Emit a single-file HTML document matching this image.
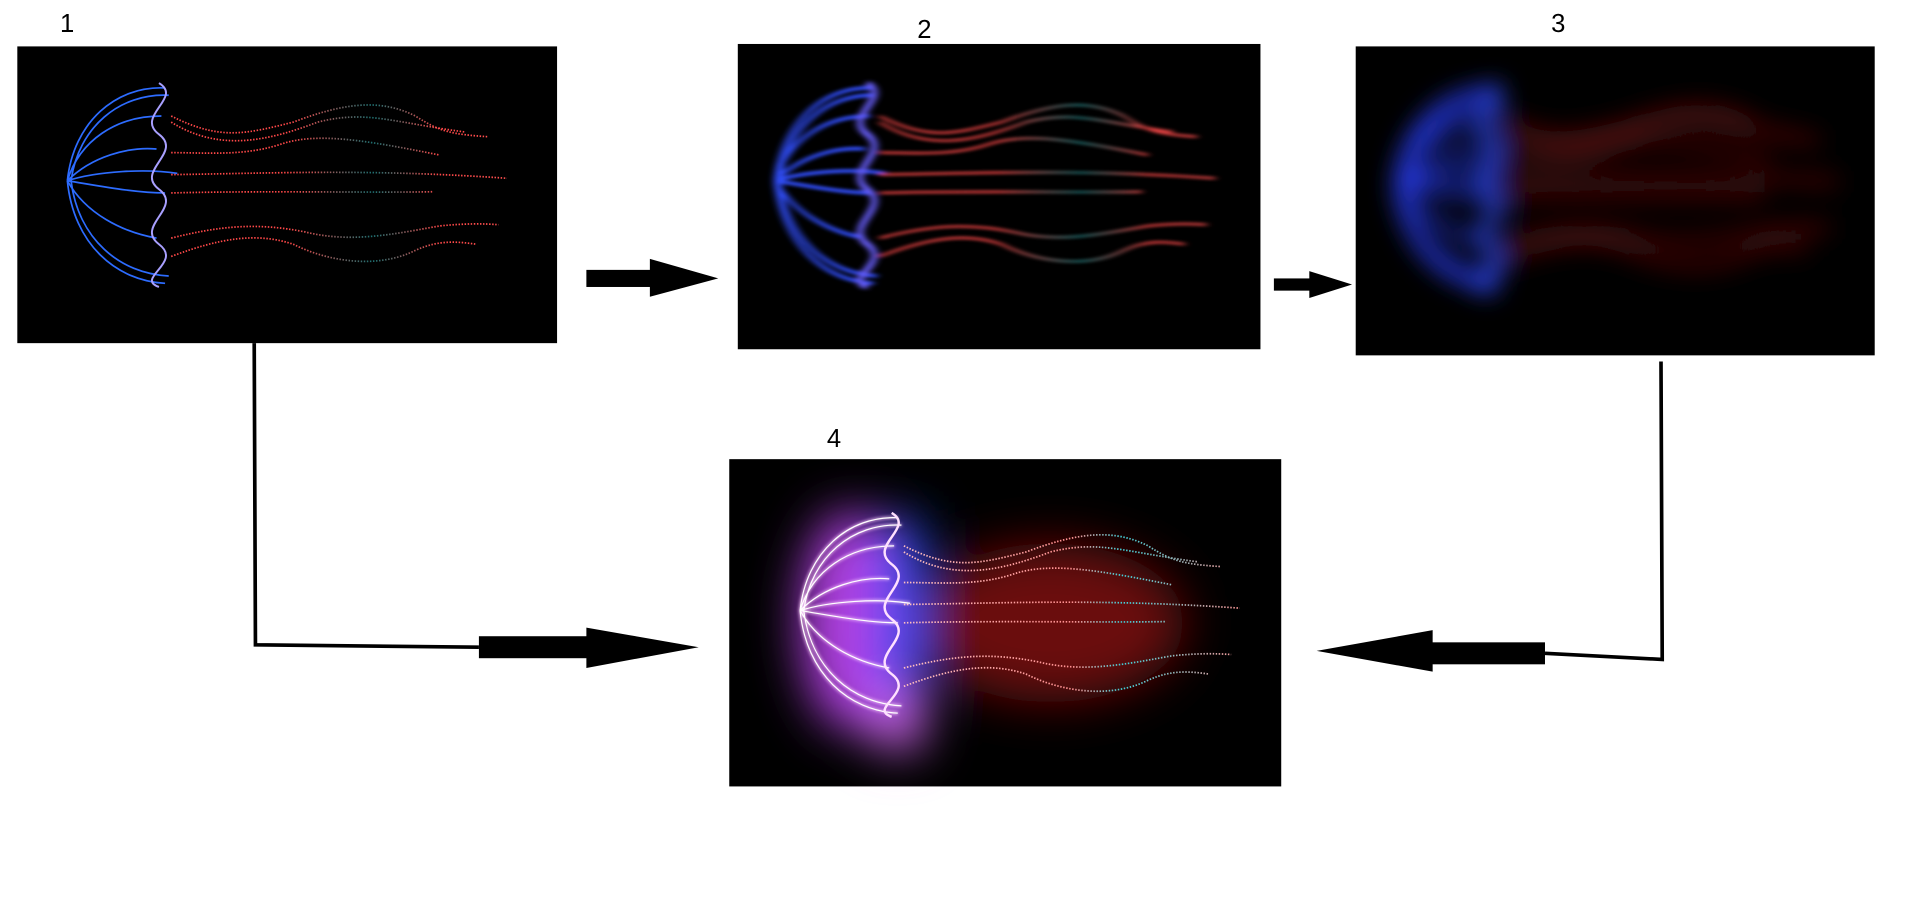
<!DOCTYPE html>
<html><head><meta charset="utf-8"><style>
html,body{margin:0;padding:0;background:#fff;width:1914px;height:900px;overflow:hidden}
svg{display:block}
text{font-family:"Liberation Sans",sans-serif}
</style></head><body>
<svg width="1914" height="900" viewBox="0 0 1567 737" xmlns="http://www.w3.org/2000/svg">
<defs>
  <linearGradient id="tg" gradientUnits="userSpaceOnUse" x1="140" y1="0" x2="415" y2="0">
    <stop offset="0" stop-color="#ff4848"/><stop offset="0.35" stop-color="#ff4848"/>
    <stop offset="0.6" stop-color="#1c6f70"/><stop offset="0.8" stop-color="#ff4848"/><stop offset="1" stop-color="#ff5050"/>
  </linearGradient>
  <linearGradient id="tg4" gradientUnits="userSpaceOnUse" x1="140" y1="0" x2="415" y2="0">
    <stop offset="0" stop-color="#ffc0c0"/><stop offset="0.5" stop-color="#ff9090"/>
    <stop offset="0.65" stop-color="#40d0d8"/><stop offset="1" stop-color="#ff9a9a"/>
  </linearGradient>
  <filter id="b2" x="-20%" y="-20%" width="140%" height="140%"><feGaussianBlur stdDeviation="3 1.2"/></filter>
  <filter id="b3" filterUnits="userSpaceOnUse" x="1000" y="0" width="560" height="320"><feGaussianBlur stdDeviation="10"/></filter>
  <filter id="b4" x="-50%" y="-50%" width="200%" height="200%"><feGaussianBlur stdDeviation="20"/></filter>
  <filter id="g4" x="-20%" y="-20%" width="140%" height="140%"><feGaussianBlur stdDeviation="1.2"/></filter>
  <g id="bell">
    <path d="M55,148 C60,100 95,70 135,72"/>
    <path d="M55,148 C65,115 95,95 132,95"/>
    <path d="M55,148 C75,128 105,120 128,122"/>
    <path d="M55,148 C80,140 120,138 145,142"/>
    <path d="M55,148 C80,152 110,158 135,158"/>
    <path d="M55,148 C70,175 100,190 128,195"/>
    <path d="M55,148 C60,200 95,230 135,232"/>
    <path d="M58,148 C64,104 98,76 138,78"/>
    <path d="M58,148 C64,196 98,224 138,226"/>
  </g>
  <path id="wave" d="M130,68 C150,80 110,95 130,110 C150,125 110,140 130,155 C150,170 110,185 130,200 C150,215 110,228 130,235"/>
  <g id="tent">
    <path d="M140,95 C180,115 200,110 240,100 C280,85 310,80 340,95 C360,108 370,110 400,112"/>
    <path d="M140,100 C180,125 220,115 260,100 C300,90 320,100 380,108"/>
    <path d="M140,125 C170,125 200,128 230,118 C260,108 300,115 360,127"/>
    <path d="M140,143 C220,142 300,138 415,146"/>
    <path d="M140,158 C220,156 300,158 355,157"/>
    <path d="M140,195 C180,185 210,182 250,190 C290,200 330,190 360,185 C380,183 395,183 408,184"/>
    <path d="M140,210 C180,195 210,190 240,200 C270,215 310,220 340,205 C360,196 375,198 390,200"/>
  </g>
</defs>

<text x="49" y="26" font-size="21">1</text>
<text x="751" y="31" font-size="21">2</text>
<text x="1270" y="26" font-size="21">3</text>
<text x="677" y="366" font-size="21">4</text>

<g>
  <rect x="14" y="38" width="442" height="243" fill="#000"/>
  <g fill="none" stroke="#2d6cff" stroke-width="1.4"><use href="#bell"/></g>
  <g fill="none" stroke="#a9a0ff" stroke-width="1.6"><use href="#wave"/></g>
  <g fill="none" stroke="url(#tg)" stroke-width="1.4" stroke-dasharray="1.2 1.3"><use href="#tent"/></g>
</g>

<g>
  <rect x="604" y="36" width="428" height="250" fill="#000"/>
  <g transform="translate(580,0)" filter="url(#b2)">
    <g fill="none" stroke="#3050ff" stroke-width="3"><use href="#bell"/></g>
    <g fill="none" stroke="#6a60ff" stroke-width="5"><use href="#wave"/></g>
    <g fill="none" stroke="url(#tg)" stroke-width="1.8"><use href="#tent"/></g>
  </g>
</g>

<g>
  <rect x="1110" y="38" width="425" height="253" fill="#000"/>
  <g filter="url(#b3)">
    <g transform="translate(1090,3)">
      <g fill="none" stroke="#2a40ff" stroke-width="6"><use href="#bell"/></g>
      <g fill="none" stroke="#3050ff" stroke-width="9"><use href="#wave"/></g>
      <g fill="none" stroke="#4a0808" stroke-width="9"><use href="#tent"/></g>
    </g>
  </g>
</g>

<g>
  <rect x="597" y="376" width="452" height="268" fill="#000"/>
  <g filter="url(#b4)">
    <ellipse cx="860" cy="510" rx="110" ry="65" fill="#6a0e0e"/>
    <ellipse cx="695" cy="508" rx="40" ry="90" fill="#b040e0"/>
    <rect x="720" y="425" width="34" height="175" fill="#2050ff"/>
    <ellipse cx="735" cy="590" rx="22" ry="25" fill="#e070ff"/>
  </g>
  <g transform="translate(600,352)">
    <g fill="none" stroke="#ffd0ff" stroke-width="1.6" filter="url(#g4)"><use href="#bell"/></g>
    <g fill="none" stroke="#ffffff" stroke-width="1"><use href="#bell"/></g>
    <g fill="none" stroke="#ffe0ff" stroke-width="2"><use href="#wave"/></g>
    <g fill="none" stroke="url(#tg4)" stroke-width="1.4" stroke-dasharray="1.2 1.3"><use href="#tent"/></g>
  </g>
</g>

<g fill="#000">
  <rect x="480" y="221" width="55" height="14"/>
  <polygon points="532,212 588,228 532,243"/>
</g>
<g fill="#000">
  <rect x="1043" y="228" width="32" height="10"/>
  <polygon points="1072,222 1107,233 1072,244"/>
</g>
<g>
  <polyline points="208,281 209,528 392,530" fill="none" stroke="#000" stroke-width="3"/>
  <rect x="392" y="521" width="92" height="18" fill="#000"/>
  <polygon points="480,514 572,530 480,547" fill="#000"/>
</g>
<g>
  <polyline points="1360,296 1361,540 1265,535" fill="none" stroke="#000" stroke-width="3"/>
  <rect x="1170" y="526" width="95" height="18" fill="#000"/>
  <polygon points="1173,516 1078,533 1173,550" fill="#000"/>
</g>
</svg>
</body></html>
